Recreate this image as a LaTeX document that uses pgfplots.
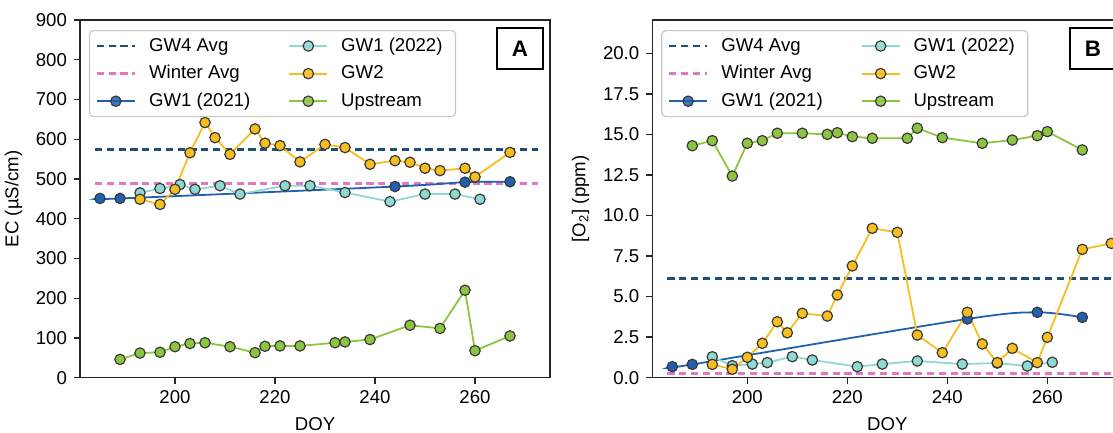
\documentclass[border=0pt]{standalone}
\usepackage{pgfplots}
\pgfplotsset{compat=1.18}
\usepackage{fontspec}
\setmainfont{Liberation Sans}
\definecolor{cnavy}{HTML}{1F4E79}
\definecolor{cpink}{HTML}{E377C2}
\definecolor{cblue}{HTML}{2060B0}
\definecolor{cteal}{HTML}{8FD9D3}
\definecolor{cgold}{HTML}{F8BE1E}
\definecolor{cgreen}{HTML}{8CC63F}
\definecolor{cedge}{HTML}{3A3A3A}
\pgfplotsset{
  sgw4/.style={cnavy, line width=1.3pt, dash pattern=on 3.6pt off 2.3pt, mark=none},
  swin/.style={cpink, line width=1.3pt, dash pattern=on 3.6pt off 2.3pt, mark=none},
  s21/.style={cblue, line width=0.9pt, mark=*, mark size=2.6pt, mark options={solid, fill=cblue, draw=cedge, line width=0.6pt}},
  s22/.style={cteal, line width=0.9pt, mark=*, mark size=2.6pt, mark options={solid, fill=cteal, draw=cedge, line width=0.6pt}},
  sgw2/.style={cgold, line width=0.9pt, mark=*, mark size=2.6pt, mark options={solid, fill=cgold, draw=cedge, line width=0.6pt}},
  sup/.style={cgreen, line width=0.9pt, mark=*, mark size=2.6pt, mark options={solid, fill=cgreen, draw=cedge, line width=0.6pt}},
  myax/.style={
    scale only axis, width=235pt, height=178.85pt,
    xmin=181, xmax=275,
    xtick={200,220,240,260},
    tick align=outside, xtick pos=left, ytick pos=left,
    major tick length=3pt,
    axis line style={line width=0.7pt, black!85},
    every tick/.style={black!85, line width=0.7pt},
    tick label style={font=\fontsize{9.3}{11}\selectfont},
    label style={font=\fontsize{9.3}{11}\selectfont},
    /pgf/number format/assume math mode=true,
    xlabel={DOY},
    legend image code/.code={\draw[mark repeat=2,mark phase=2,##1] plot coordinates {(0pt,0pt)(9.5pt,0pt)(19pt,0pt)};},
    legend columns=2,
    legend cell align=left,
    legend style={at={(0.019,0.972)}, anchor=north west, draw=black!22, rounded corners=2pt,
      fill=white, fill opacity=0.85, text opacity=1, line width=0.6pt,
      font=\fontsize{9.3}{11}\selectfont, inner xsep=3pt, inner ysep=2.2pt,
      nodes={inner xsep=3.5pt, inner ysep=1pt, text height=7pt, text depth=2pt},
      row sep=2.8pt,
      /tikz/every odd column/.append style={column sep=3pt},
      /tikz/every even column/.append style={column sep=15.5pt}},
  }
}
\begin{document}
\begin{tikzpicture}
\begin{axis}[myax, at={(40pt,27.65pt)}, anchor=south west,
  ymin=0, ymax=900, ytick={0,100,...,900},
  ylabel={EC (µS/cm)}]
\addlegendimage{sgw4}\addlegendentry{GW4 Avg}
\addlegendimage{s22}\addlegendentry{GW1 (2022)}
\addlegendimage{swin}\addlegendentry{Winter Avg}
\addlegendimage{sgw2}\addlegendentry{GW2}
\addlegendimage{s21}\addlegendentry{GW1 (2021)}
\addlegendimage{sup}\addlegendentry{Upstream}
\addplot[sgw4, forget plot] coordinates {(184,574) (272.5,574)};
\addplot[swin, forget plot] coordinates {(184,489) (272.5,489)};
\addplot[s21, smooth, forget plot] coordinates {(185,451) (189,451) (244,481) (258,492) (267,493)};
\addplot[s22, forget plot] coordinates {(193,465) (197,476) (201,486) (204,474) (209,483) (213,462) (222,483) (227,483) (234,466) (243,443) (250,462) (256,462) (261,449)};
\addplot[sgw2, forget plot] coordinates {(193,449) (197,436) (200,474) (203,566) (206,642) (208,604) (211,562) (216,626) (218,590) (221,584) (225,543) (230,587) (234,579) (239,537) (244,546) (247,542) (250,527) (253,521) (258,527) (260,505) (267,567)};
\addplot[sup, forget plot] coordinates {(189,46) (193,62) (197,64) (200,78) (203,86) (206,88) (211,78) (216,63) (218,79) (221,80) (225,80) (232,88) (234,90) (239,96) (247,132) (253,124) (258,220) (260,68) (267,105)};
\node[draw=black, line width=0.8pt, fill=white, minimum width=23pt, minimum height=20.5pt, inner sep=0pt, font=\fontsize{11.2}{13}\selectfont\bfseries] at (rel axis cs:0.936,0.920) {A};
\end{axis}
\begin{axis}[myax, at={(326.15pt,27.65pt)}, anchor=south west,
  ymin=0, ymax=22.05, ytick={0,2.5,...,20},
  yticklabel style={/pgf/number format/.cd, fixed, fixed zerofill, precision=1},
  ylabel={[O\textsubscript{2}] (ppm)}]
\addlegendimage{sgw4}\addlegendentry{GW4 Avg}
\addlegendimage{s22}\addlegendentry{GW1 (2022)}
\addlegendimage{swin}\addlegendentry{Winter Avg}
\addlegendimage{sgw2}\addlegendentry{GW2}
\addlegendimage{s21}\addlegendentry{GW1 (2021)}
\addlegendimage{sup}\addlegendentry{Upstream}
\addplot[sgw4, forget plot] coordinates {(184,6.1) (280,6.1)};
\addplot[swin, forget plot] coordinates {(184,0.27) (280,0.27)};
\addplot[s21, smooth, forget plot] coordinates {(185,0.68) (189,0.82) (244,3.62) (258,4.03) (267,3.72)};
\addplot[s22, forget plot] coordinates {(193,1.29) (197,0.74) (201,0.84) (204,0.93) (209,1.30) (213,1.09) (222,0.68) (227,0.84) (234,1.03) (243,0.84) (250,0.90) (256,0.72) (261,0.95)};
\addplot[sgw2, forget plot] coordinates {(193,0.82) (197,0.52) (200,1.26) (203,2.12) (206,3.45) (208,2.77) (211,3.97) (216,3.80) (218,5.10) (221,6.89) (225,9.21) (230,8.96) (234,2.63) (239,1.54) (244,4.03) (247,2.08) (250,0.93) (253,1.81) (258,0.93) (260,2.49) (267,7.91) (272.8,8.28)};
\addplot[sup, forget plot] coordinates {(189,14.30) (193,14.61) (197,12.43) (200,14.45) (203,14.61) (206,15.07) (211,15.07) (216,15.00) (218,15.10) (221,14.86) (225,14.76) (232,14.76) (234,15.38) (239,14.80) (247,14.45) (253,14.65) (258,14.92) (260,15.17) (267,14.04)};
\node[draw=black, line width=0.8pt, fill=white, minimum width=23pt, minimum height=20.5pt, inner sep=0pt, font=\fontsize{11.2}{13}\selectfont\bfseries] at (rel axis cs:0.9374,0.920) {B};
\end{axis}
\pgfresetboundingbox
\path[use as bounding box] (0pt,0pt) rectangle (556.5pt,216.5pt);
\end{tikzpicture}
\end{document}
